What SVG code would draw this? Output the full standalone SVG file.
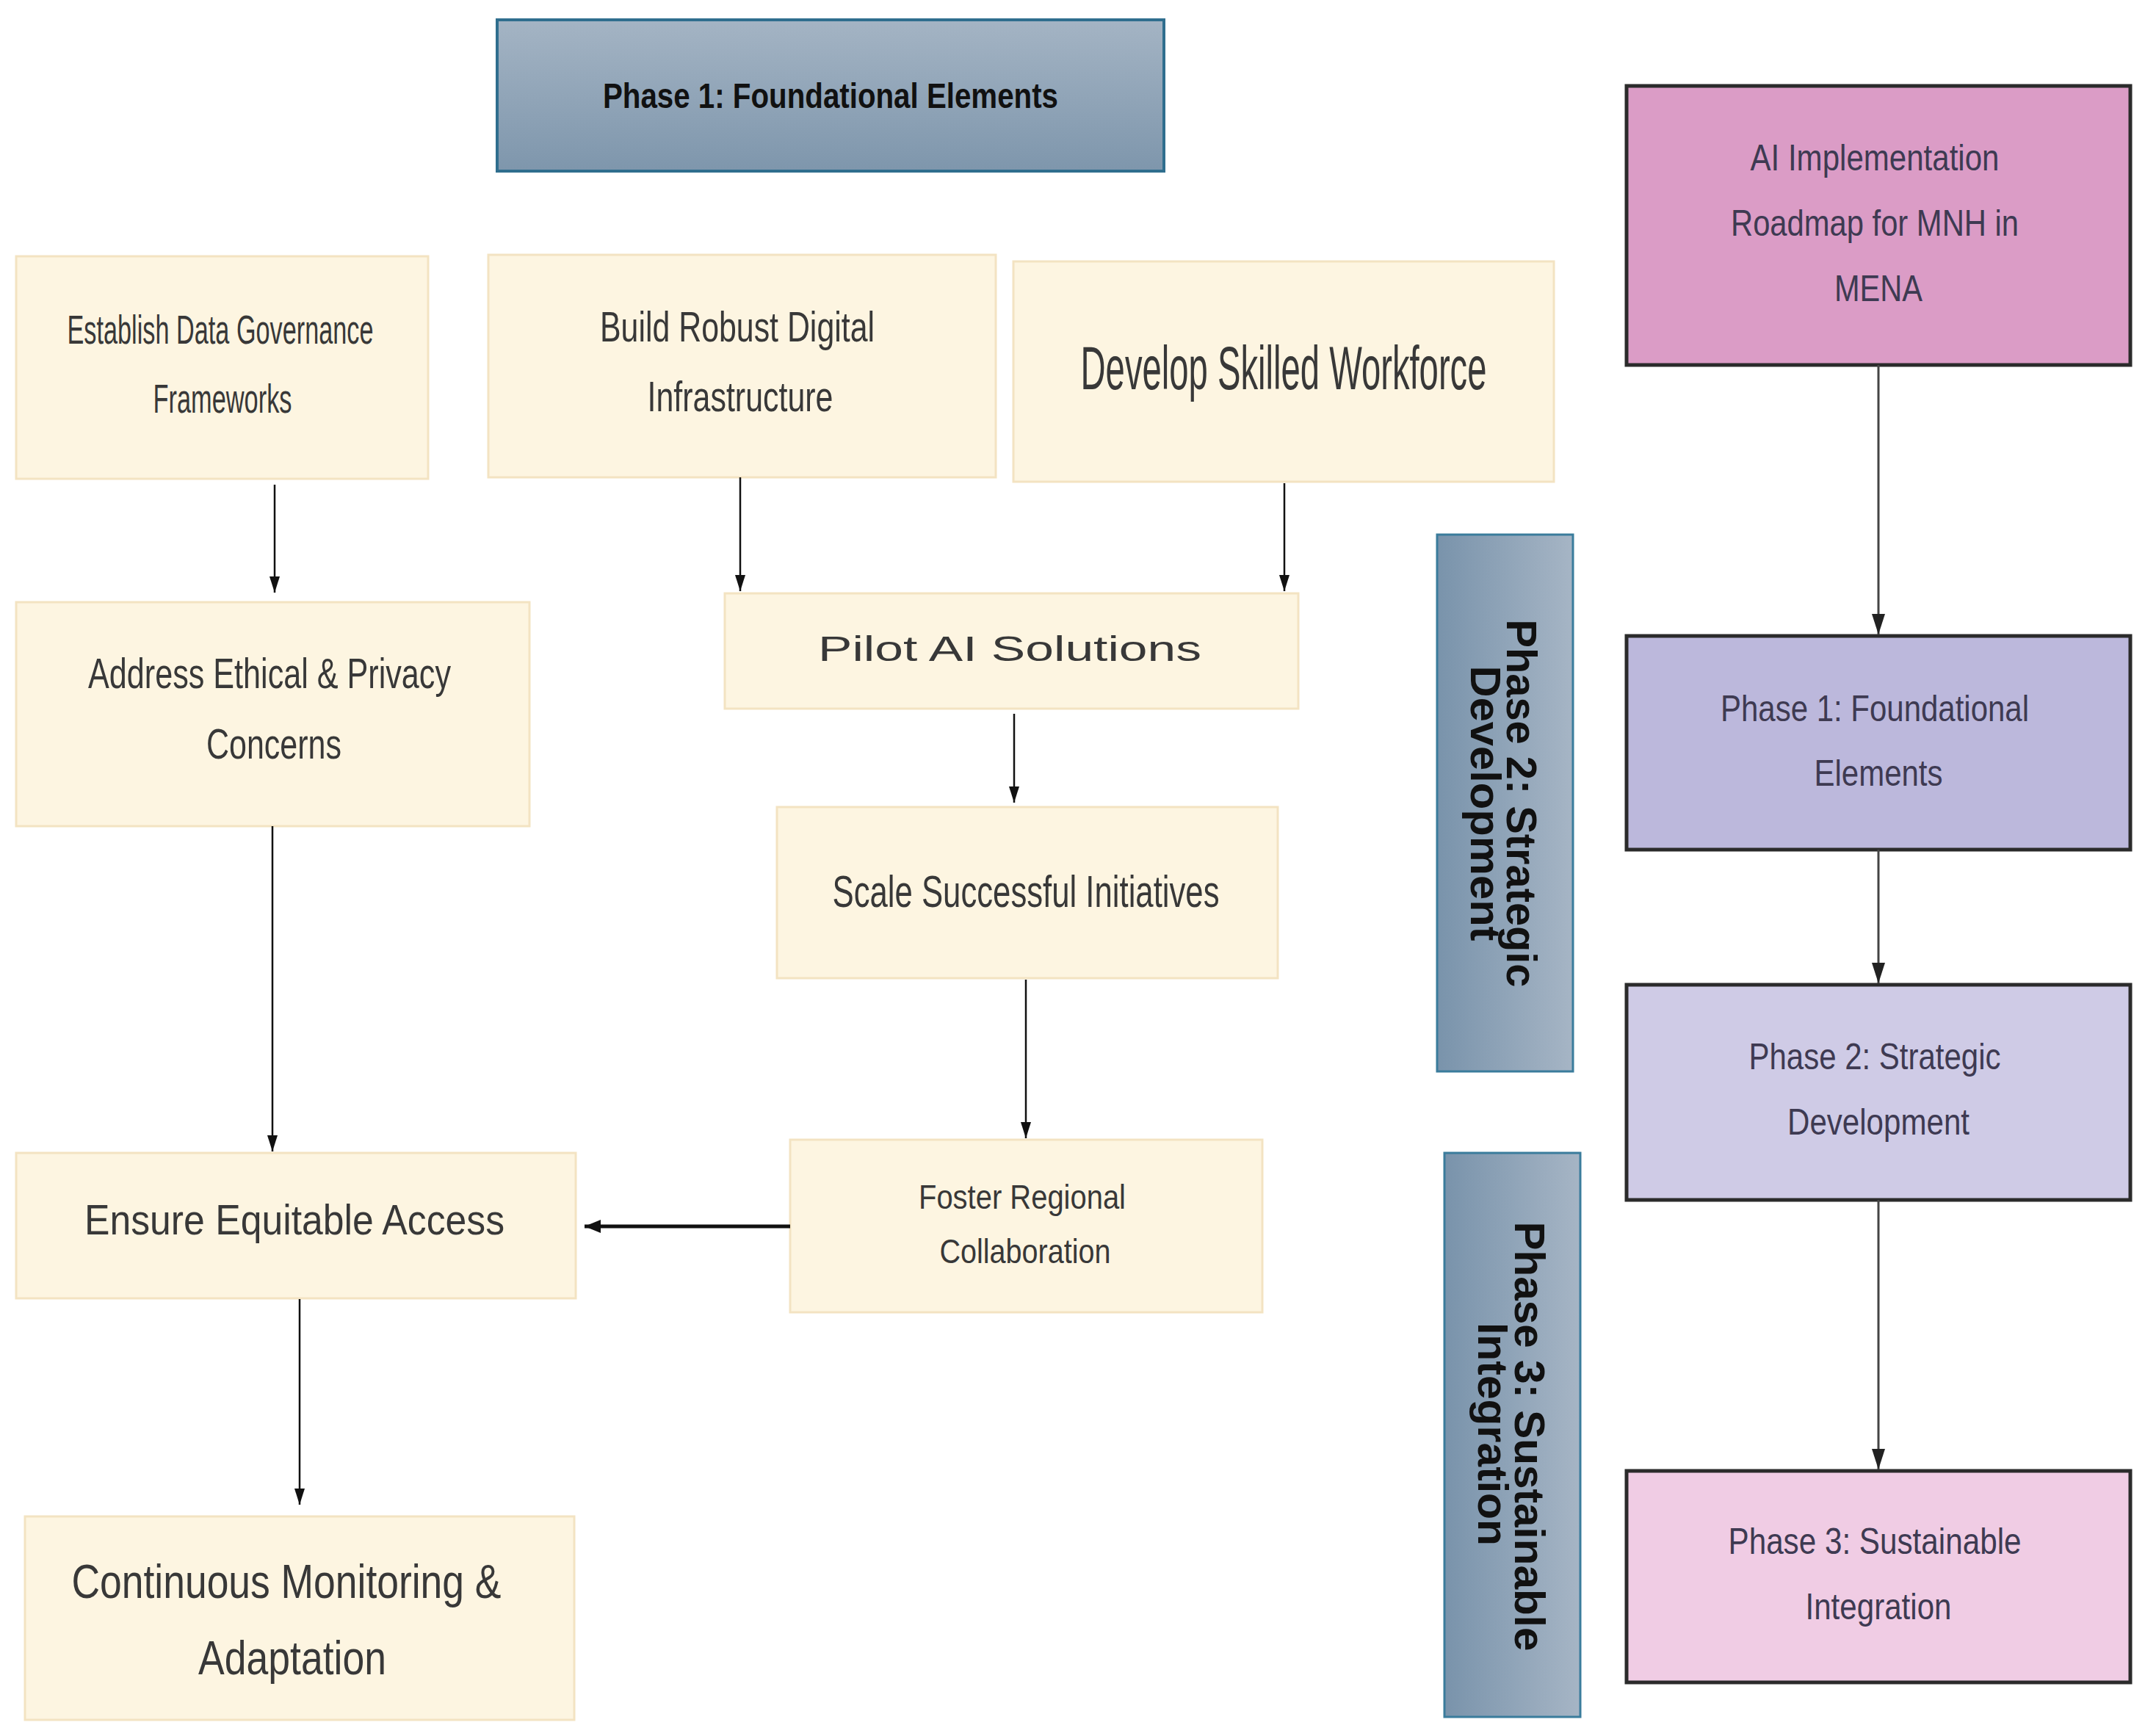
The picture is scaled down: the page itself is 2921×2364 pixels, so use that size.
<svg xmlns="http://www.w3.org/2000/svg" width="2921" height="2364" viewBox="0 0 2921 2364">
<defs>
<linearGradient id="gHead" x1="0" y1="0" x2="0" y2="1">
<stop offset="0" stop-color="#a4b4c4"/>
<stop offset="1" stop-color="#7e96ac"/>
</linearGradient>
<linearGradient id="gSide" x1="0" y1="0" x2="1" y2="0">
<stop offset="0" stop-color="#7993ab"/>
<stop offset="1" stop-color="#a6b5c5"/>
</linearGradient>
<marker id="ahL" markerUnits="userSpaceOnUse" markerWidth="24" markerHeight="16" refX="22" refY="7" orient="auto">
<path d="M0,0 L22,7 L0,14 Z" fill="#111"/>
</marker>
<marker id="ahH" markerUnits="userSpaceOnUse" markerWidth="24" markerHeight="20" refX="22" refY="9" orient="auto">
<path d="M0,0 L22,9 L0,18 Z" fill="#111"/>
</marker>
<marker id="ahR" markerUnits="userSpaceOnUse" markerWidth="30" markerHeight="20" refX="28" refY="9" orient="auto">
<path d="M0,0 L28,9 L0,18 Z" fill="#222"/>
</marker>
</defs>
<style>
.cream{fill:#fdf5e1;stroke:#f3e3c2;stroke-width:3}
.ct{font-family:"Liberation Sans",Arial,sans-serif;fill:#383838;text-anchor:middle}
.rt{font-family:"Liberation Sans",Arial,sans-serif;fill:#3e3a52;text-anchor:middle;font-size:50px}
.rbox{stroke:#2b2b2b;stroke-width:5}
.bt{font-family:"Liberation Sans",Arial,sans-serif;font-weight:bold;fill:#111;text-anchor:middle}
.side{fill:url(#gSide);stroke:#3a7c9c;stroke-width:3}
.al{stroke:#111;stroke-width:2.5;fill:none;marker-end:url(#ahL)}
.ar{stroke:#444;stroke-width:3;fill:none;marker-end:url(#ahR)}
</style>
<rect width="2921" height="2364" fill="#ffffff"/>

<g id="header-phase1">
<rect x="677" y="27" width="908" height="206" fill="url(#gHead)" stroke="#2f6e8e" stroke-width="4"/>
<text class="bt" x="1131" y="147" font-size="49" textLength="620" lengthAdjust="spacingAndGlyphs">Phase 1: Foundational Elements</text>
</g>

<g id="node-establish">
<rect class="cream" x="22" y="349" width="561" height="303"/>
<text class="ct" x="300" y="468" font-size="56" textLength="417" lengthAdjust="spacingAndGlyphs">Establish Data Governance</text>
<text class="ct" x="303" y="562" font-size="56" textLength="189" lengthAdjust="spacingAndGlyphs">Frameworks</text>
</g>

<g id="node-build">
<rect class="cream" x="665" y="347" width="691" height="303"/>
<text class="ct" x="1004" y="465" font-size="58" textLength="374" lengthAdjust="spacingAndGlyphs">Build Robust Digital</text>
<text class="ct" x="1008" y="560" font-size="58" textLength="253" lengthAdjust="spacingAndGlyphs">Infrastructure</text>
</g>

<g id="node-develop">
<rect class="cream" x="1380" y="356" width="736" height="300"/>
<text class="ct" x="1748" y="530" font-size="84" textLength="553" lengthAdjust="spacingAndGlyphs">Develop Skilled Workforce</text>
</g>

<g id="node-address">
<rect class="cream" x="22" y="820" width="699" height="305"/>
<text class="ct" x="367" y="937" font-size="58" textLength="494" lengthAdjust="spacingAndGlyphs">Address Ethical &amp; Privacy</text>
<text class="ct" x="373" y="1033" font-size="58" textLength="184" lengthAdjust="spacingAndGlyphs">Concerns</text>
</g>

<g id="node-pilot">
<rect class="cream" x="987" y="808" width="781" height="157"/>
<text class="ct" x="1375" y="900" font-size="49" textLength="522" lengthAdjust="spacingAndGlyphs">Pilot AI Solutions</text>
</g>

<g id="node-scale">
<rect class="cream" x="1058" y="1099" width="682" height="233"/>
<text class="ct" x="1397" y="1235" font-size="62" textLength="527" lengthAdjust="spacingAndGlyphs">Scale Successful Initiatives</text>
</g>

<g id="node-foster">
<rect class="cream" x="1076" y="1552" width="643" height="235"/>
<text class="ct" x="1392" y="1646" font-size="46" textLength="282" lengthAdjust="spacingAndGlyphs">Foster Regional</text>
<text class="ct" x="1396" y="1720" font-size="46" textLength="233" lengthAdjust="spacingAndGlyphs">Collaboration</text>
</g>

<g id="node-ensure">
<rect class="cream" x="22" y="1570" width="762" height="198"/>
<text class="ct" x="401" y="1681" font-size="57" textLength="572" lengthAdjust="spacingAndGlyphs">Ensure Equitable Access</text>
</g>

<g id="node-continuous">
<rect class="cream" x="34" y="2065" width="748" height="277"/>
<text class="ct" x="390" y="2176" font-size="65" textLength="585" lengthAdjust="spacingAndGlyphs">Continuous Monitoring &amp;</text>
<text class="ct" x="398" y="2280" font-size="65" textLength="256" lengthAdjust="spacingAndGlyphs">Adaptation</text>
</g>

<g id="label-phase2">
<rect class="side" x="1957" y="728" width="185" height="731"/>
<text class="bt" transform="translate(2052,1094) rotate(90)" font-size="57" textLength="501" lengthAdjust="spacingAndGlyphs">Phase 2: Strategic</text>
<text class="bt" transform="translate(2003,1094) rotate(90)" font-size="57" textLength="375" lengthAdjust="spacingAndGlyphs">Development</text>
</g>

<g id="label-phase3">
<rect class="side" x="1967" y="1570" width="185" height="768"/>
<text class="bt" transform="translate(2063,1956) rotate(90)" font-size="57" textLength="585" lengthAdjust="spacingAndGlyphs">Phase 3: Sustainable</text>
<text class="bt" transform="translate(2013,1953) rotate(90)" font-size="57" textLength="304" lengthAdjust="spacingAndGlyphs">Integration</text>
</g>

<g id="node-roadmap">
<rect class="rbox" x="2215" y="117" width="686" height="380" fill="#db9cc6"/>
<text class="rt" x="2553" y="232" textLength="339" lengthAdjust="spacingAndGlyphs" fill="#3a2a3e">AI Implementation</text>
<text class="rt" x="2553" y="321" textLength="392" lengthAdjust="spacingAndGlyphs" fill="#3a2a3e">Roadmap for MNH in</text>
<text class="rt" x="2558" y="410" textLength="120" lengthAdjust="spacingAndGlyphs" fill="#3a2a3e">MENA</text>
</g>

<g id="node-r-phase1">
<rect class="rbox" x="2215" y="866" width="686" height="291" fill="#bcb8dc"/>
<text class="rt" x="2553" y="982" textLength="420" lengthAdjust="spacingAndGlyphs">Phase 1: Foundational</text>
<text class="rt" x="2558" y="1070" textLength="175" lengthAdjust="spacingAndGlyphs">Elements</text>
</g>

<g id="node-r-phase2">
<rect class="rbox" x="2215" y="1341" width="686" height="293" fill="#cfcbe6"/>
<text class="rt" x="2553" y="1456" textLength="343" lengthAdjust="spacingAndGlyphs">Phase 2: Strategic</text>
<text class="rt" x="2558" y="1545" textLength="248" lengthAdjust="spacingAndGlyphs">Development</text>
</g>

<g id="node-r-phase3">
<rect class="rbox" x="2215" y="2003" width="686" height="288" fill="#f0cce4"/>
<text class="rt" x="2553" y="2116" textLength="399" lengthAdjust="spacingAndGlyphs">Phase 3: Sustainable</text>
<text class="rt" x="2558" y="2205" textLength="199" lengthAdjust="spacingAndGlyphs">Integration</text>
</g>

<g id="connectors">
<line class="al" x1="374" y1="660" x2="374" y2="807"/>
<line class="al" x1="1008" y1="650" x2="1008" y2="805"/>
<line class="al" x1="1749" y1="658" x2="1749" y2="805"/>
<line class="al" x1="1381" y1="972" x2="1381" y2="1093"/>
<line class="al" x1="371" y1="1125" x2="371" y2="1568"/>
<line class="al" x1="1397" y1="1334" x2="1397" y2="1550"/>
<line x1="1076" y1="1670" x2="796" y2="1670" stroke="#111" stroke-width="5" marker-end="url(#ahH)"/>
<line class="al" x1="408" y1="1769" x2="408" y2="2049"/>
<line class="ar" x1="2558" y1="497" x2="2558" y2="864"/>
<line class="ar" x1="2558" y1="1157" x2="2558" y2="1339"/>
<line class="ar" x1="2558" y1="1634" x2="2558" y2="2001"/>
</g>
</svg>
